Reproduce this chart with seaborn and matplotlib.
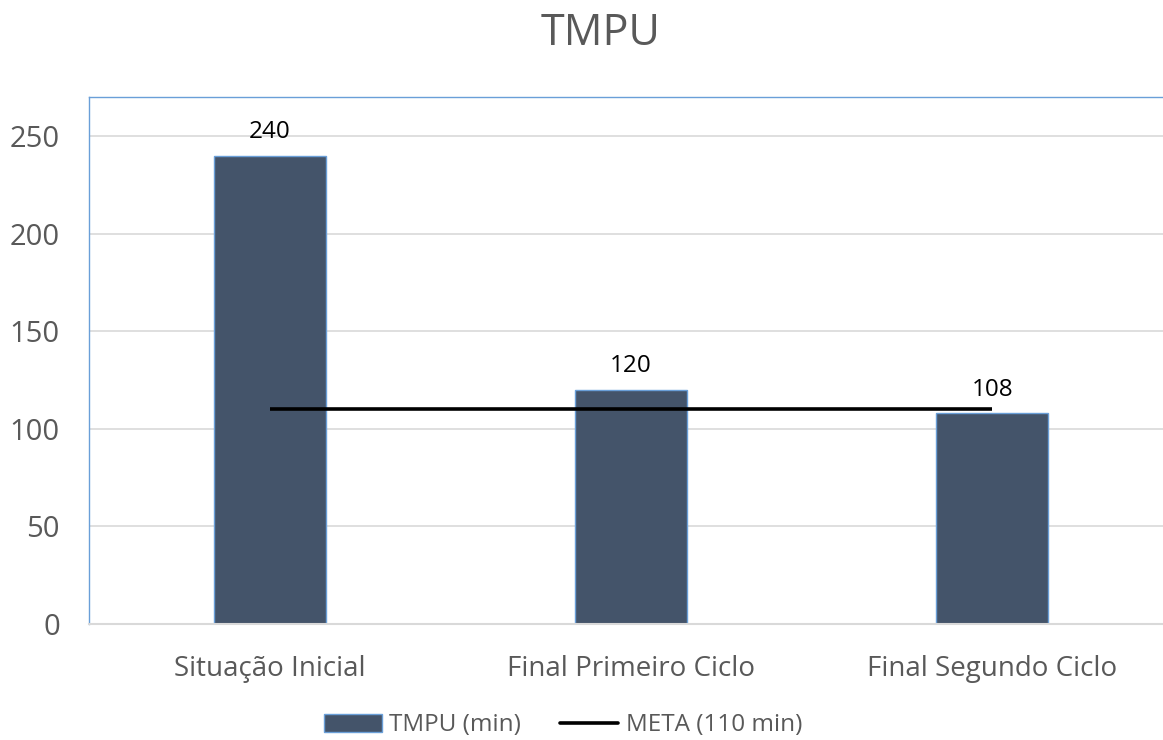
import matplotlib
matplotlib.use("Agg")
import matplotlib.pyplot as plt
import seaborn as sns
import pandas as pd
from matplotlib.patches import Patch
from matplotlib.lines import Line2D

categories = ["Situação Inicial", "Final Primeiro Ciclo", "Final Segundo Ciclo"]
tmpu_values = [240, 120, 108]
meta_values = [110, 110, 110]
y_ticks = [0, 50, 100, 150, 200, 250]

sns.set_theme(style="white")
plt.rcParams["font.family"] = ["Open Sans", "DejaVu Sans"]

bar_color = "#44546A"
edge_color = "#6A9FD8"
grid_color = "#D9D9D9"
text_gray = "#595959"

df = pd.DataFrame({"categoria": categories, "tmpu": tmpu_values})

fig = plt.figure(figsize=(11.63, 7.40), dpi=100)
ax = fig.add_axes([0.0765, 0.1568, 0.932, 0.712])

sns.barplot(data=df, x="categoria", y="tmpu", color=bar_color, width=0.31,
            edgecolor=edge_color, linewidth=1, saturation=1, ax=ax, zorder=2)

ax.plot(range(len(categories)), meta_values, color="black", lw=2.6, zorder=3,
        solid_capstyle="butt")

for i, v in enumerate(tmpu_values):
    ax.text(i, v + 6, str(v), ha="center", va="bottom", fontsize=17.5, color="black",
            zorder=4)

ax.set_ylim(0, 270)
ax.set_xlim(-0.5, 2.5)
ax.set_yticks(y_ticks)
ax.set_yticklabels([str(t) for t in y_ticks], fontsize=21, color=text_gray)
ax.tick_params(axis="x", labelsize=20, colors=text_gray, pad=22, length=0)
ax.tick_params(axis="y", length=0, pad=21)
ax.set_xlabel("")
ax.set_ylabel("")

ax.yaxis.grid(True, color=grid_color, lw=1.2, zorder=0)
ax.set_axisbelow(True)

for side in ["left", "top"]:
    ax.spines[side].set_color(edge_color)
    ax.spines[side].set_linewidth(1)
ax.spines["bottom"].set_color(grid_color)
ax.spines["bottom"].set_linewidth(1.5)
ax.spines["right"].set_visible(False)

fig.text(0.516, 0.955, "TMPU", ha="center", va="center", fontsize=31, color=text_gray)

handles = [Patch(facecolor=bar_color, edgecolor=edge_color, lw=1),
           Line2D([0], [0], color="black", lw=2.6)]
fig.legend(handles, ["TMPU (min)", "META (110 min)"], loc="center",
           bbox_to_anchor=(0.484, 0.02), ncol=2, frameon=False, fontsize=17.5,
           labelcolor=text_gray, handlelength=2.4, handleheight=0.75,
           handletextpad=0.3, columnspacing=1.6)

fig.savefig("out.png", dpi=100)
